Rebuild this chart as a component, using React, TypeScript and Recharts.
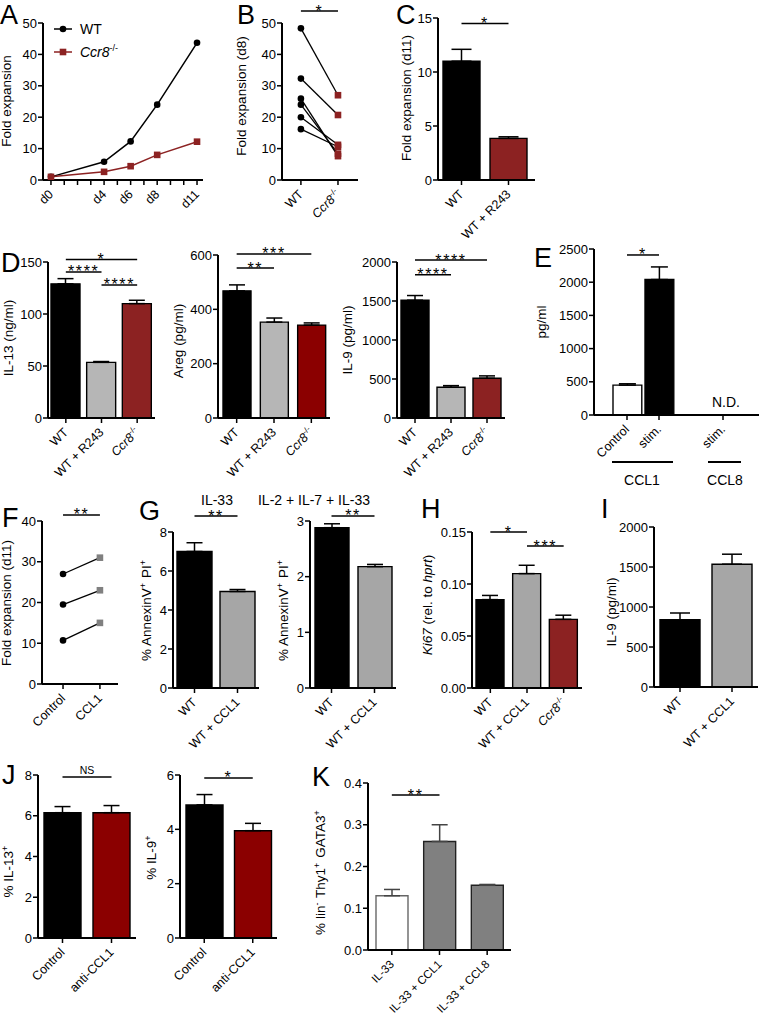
import React from 'react';
import {
  BarChart,
  Bar,
  Cell,
  ErrorBar,
  LineChart,
  Line,
  XAxis,
  YAxis,
  ReferenceLine,
} from 'recharts';

const FONT = 'Arial, "Liberation Sans", Helvetica, sans-serif';
const INK = '#000';
const BRICK = '#8c2222';
const MAROON = '#8b0000';
const LIGHT_GREY = '#b6b6b6';
const MID_GREY = '#a6a6a6';
const DARK_GREY = '#808080';

// ---- A: expansion time course ----
const aDays = [0, 4, 6, 8, 11];
const aWt = [1, 5.8, 12.3, 24, 43.7];
const aCcr8 = [1, 2.6, 4.4, 8, 12.2];
const aTicks = [0, 1, 2, 3, 4, 5, 6, 7, 8, 9, 10, 11];
const aTickLabels = ['d0', '', '', '', 'd4', '', 'd6', '', 'd8', '', '', 'd11'];
const foldTicks50 = [0, 10, 20, 30, 40, 50];

// ---- B: paired d8 ----
const bCats = ['WT', 'Ccr8-/-'];
const bWt = [48.3, 32.3, 25.9, 24, 20, 16.2];
const bCcr8 = [27, 20.7, 7.6, 8.4, 11.2, 10.6];

// ---- C ----
const cCats = ['WT', 'WT + R243'];
const cMean = [11, 3.85];
const cSem = [1.1, 0.15];

// ---- D ----
const dCats = ['WT', 'WT + R243', 'Ccr8-/-'];
const dIl13 = [129, 53.5, 110];
const dIl13Sem = [5, 0.8, 3.2];
const dAreg = [468, 353, 342];
const dAregSem = [22, 15, 8];
const dIl9 = [1510, 395, 510];
const dIl9Sem = [60, 20, 30];

// ---- E ----
const eCats = ['Control', 'stim.', '', 'stim.'];
const eMean = [450, 2040, 0, 0];
const eSem = [20, 190, 0, 0];

// ---- F ----
const fCats = ['Control', 'CCL1'];
const fControl = [27, 19.5, 10.7];
const fCcl1 = [31, 23, 15];

// ---- G ----
const gCats = ['WT', 'WT + CCL1'];
const gIl33 = [7.0, 4.95];
const gIl33Sem = [0.45, 0.1];
const gMix = [2.88, 2.18];
const gMixSem = [0.07, 0.04];

// ---- H ----
const hCats = ['WT', 'WT + CCL1', 'Ccr8-/-'];
const hKi67 = [0.085, 0.11, 0.066];
const hKi67Sem = [0.004, 0.008, 0.004];

// ---- I ----
const iCats = ['WT', 'WT + CCL1'];
const iIl9 = [840, 1535];
const iIl9Sem = [85, 125];

// ---- J ----
const jCats = ['Control', 'anti-CCL1'];
const jIl13 = [6.15, 6.15];
const jIl13Sem = [0.3, 0.35];
const jIl9 = [4.9, 3.95];
const jIl9Sem = [0.38, 0.27];

// ---- K ----
const kCats = ['IL-33', 'IL-33 + CCL1', 'IL-33 + CCL8'];
const kMean = [0.13, 0.26, 0.155];
const kSem = [0.015, 0.04, 0.002];

const AXIS = { stroke: INK, strokeWidth: 2 };
const Y_W = 40;
const M_TOP = 30;
const M_RIGHT = 4;
const X_H = 95;

function rich(label: string) {
  if (label.startsWith('Ccr8')) {
    return [
      <tspan key="a" fontStyle="italic">Ccr8</tspan>,
      <tspan key="b" dy={-5} fontSize={8}>-/-</tspan>,
    ];
  }
  return label;
}

function SlantTick({ x, y, label, mark, size = 12.5 }: any) {
  const showMark = mark || !!label;
  return (
    <g>
      {showMark && <line x1={x} x2={x} y1={y} y2={y + 5} stroke={INK} strokeWidth={1.5} />}
      {label ? (
        <text
          transform={`translate(${x + 3},${y + 15}) rotate(-45)`}
          textAnchor="end"
          fontSize={size}
          fontFamily={FONT}
          fill={INK}
        >
          {rich(label)}
        </text>
      ) : null}
    </g>
  );
}

function SigText({ viewBox, text }: any) {
  if (!viewBox) return null;
  const cx = viewBox.x + viewBox.width / 2;
  const ns = text === 'NS';
  return (
    <text
      x={cx}
      y={viewBox.y + (ns ? -3 : 5.5)}
      textAnchor="middle"
      fontFamily={FONT}
      fontSize={ns ? 10.5 : 16}
      letterSpacing={ns ? 0 : 1.6}
      fill={INK}
    >
      {text}
    </text>
  );
}

function yAxisProps(domain: [number, number], ticks: number[], fmt?: (v: number) => string) {
  return {
    width: Y_W,
    domain,
    ticks,
    interval: 0 as const,
    allowDataOverflow: true,
    tickFormatter: fmt,
    axisLine: AXIS,
    tickLine: { stroke: INK, strokeWidth: 1.5 },
    tickSize: 5,
    tickMargin: 1,
    tick: { fill: INK, fontSize: 13, fontFamily: FONT },
  };
}

type Sig = { from: number; to: number; y: number; text: string };

type BarPanelProps = {
  x0: number;
  x1: number;
  yTop: number;
  yZero: number;
  cats: string[];
  mean: number[];
  sem: number[];
  fills: string[];
  strokes?: string[];
  domain: [number, number];
  ticks: number[];
  fmt?: (v: number) => string;
  barSize: number;
  padL?: number;
  padR?: number;
  cap?: number;
  errColor?: string;
  labelSize?: number;
  sig?: Sig[];
};

function BarPanel(p: BarPanelProps) {
  const data = p.cats.map((_, i) => ({ id: `k${i}`, mean: p.mean[i], err: [0, p.sem[i]] }));
  const plotW = p.x1 - p.x0;
  const plotH = p.yZero - p.yTop;
  return (
    <div style={{ position: 'absolute', left: p.x0 - Y_W, top: p.yTop - M_TOP }}>
      <BarChart
        width={Y_W + plotW + M_RIGHT}
        height={M_TOP + plotH + X_H}
        data={data}
        margin={{ top: M_TOP, right: M_RIGHT, bottom: 0, left: 0 }}
        barCategoryGap={0}
      >
        <XAxis
          dataKey="id"
          height={X_H}
          interval={0}
          padding={{ left: p.padL ?? 0, right: p.padR ?? 0 }}
          axisLine={AXIS}
          tickLine={false}
          tickSize={0}
          tickMargin={0}
          tick={(t: any) => (
            <SlantTick key={t.index} x={t.x} y={t.y} label={p.cats[t.index]} size={p.labelSize} />
          )}
        />
        <YAxis {...yAxisProps(p.domain, p.ticks, p.fmt)} />
        <Bar dataKey="mean" barSize={p.barSize} isAnimationActive={false}>
          {data.map((_, i) => (
            <Cell
              key={`cell-${i}`}
              fill={p.fills[i]}
              stroke={p.strokes ? p.strokes[i] : INK}
              strokeWidth={1.4}
            />
          ))}
          <ErrorBar
            dataKey="err"
            width={p.cap ?? 8}
            stroke={p.errColor ?? INK}
            strokeWidth={1.5}
            direction="y"
            isAnimationActive={false}
          />
        </Bar>
        {(p.sig ?? []).map((s, i) => (
          <ReferenceLine
            key={`sig-${i}`}
            segment={[
              { x: data[s.from].id, y: s.y },
              { x: data[s.to].id, y: s.y },
            ]}
            stroke={INK}
            strokeWidth={1.5}
            ifOverflow="visible"
            label={<SigText text={s.text} />}
          />
        ))}
      </BarChart>
    </div>
  );
}

const circleDot = (fill: string) => (d: any) => (
  <circle key={`c-${d.index}-${d.cx}`} cx={d.cx} cy={d.cy} r={3.3} fill={fill} />
);
const squareDot = (fill: string) => (d: any) => (
  <rect key={`s-${d.index}-${d.cx}`} x={d.cx - 3.3} y={d.cy - 3.3} width={6.6} height={6.6} fill={fill} />
);

const aData = aDays.map((d, i) => ({ day: d, wt: aWt[i], ccr8: aCcr8[i] }));

function PanelA() {
  const x0 = 43, x1 = 203, yTop = 23, yZero = 180;
  return (
    <div style={{ position: 'absolute', left: x0 - Y_W, top: yTop - M_TOP }}>
      <LineChart
        width={Y_W + (x1 - x0) + M_RIGHT}
        height={M_TOP + (yZero - yTop) + 40}
        data={aData}
        margin={{ top: M_TOP, right: M_RIGHT, left: 0, bottom: 0 }}
      >
        <XAxis
          type="number"
          dataKey="day"
          domain={[-0.6, 11.45]}
          allowDataOverflow
          ticks={aTicks}
          interval={0}
          height={40}
          axisLine={AXIS}
          tickLine={false}
          tickSize={0}
          tickMargin={0}
          tick={(t: any) => (
            <SlantTick
              key={t.index}
              x={t.x}
              y={t.y}
              mark
              label={aTickLabels[aTicks.indexOf(t.payload.value)]}
            />
          )}
        />
        <YAxis {...yAxisProps([0, 50], foldTicks50)} />
        <Line dataKey="wt" stroke={INK} strokeWidth={1.5} dot={circleDot(INK)} isAnimationActive={false} />
        <Line dataKey="ccr8" stroke={BRICK} strokeWidth={1.5} dot={squareDot(BRICK)} isAnimationActive={false} />
      </LineChart>
    </div>
  );
}

function pairRows(cats: string[], left: number[], right: number[]) {
  return cats.map((_, j) => {
    const row: Record<string, number> = { x: j };
    left.forEach((v, i) => {
      row[`p${i}`] = j === 0 ? v : right[i];
    });
    return row;
  });
}

const bData = pairRows(bCats, bWt, bCcr8);
const fData = pairRows(fCats, fControl, fCcl1);

type PairProps = {
  x0: number;
  x1: number;
  yTop: number;
  yZero: number;
  xDomain: [number, number];
  cats: string[];
  rows: Record<string, number>[];
  n: number;
  domain: [number, number];
  ticks: number[];
  rightFill: string;
  sigY: number;
  sigText: string;
};

function PairPanel(p: PairProps) {
  const keys = Array.from({ length: p.n }, (_, i) => `p${i}`);
  const dot = (d: any) =>
    d.payload.x === 0 ? circleDot(INK)(d) : squareDot(p.rightFill)(d);
  return (
    <div style={{ position: 'absolute', left: p.x0 - Y_W, top: p.yTop - M_TOP }}>
      <LineChart
        width={Y_W + (p.x1 - p.x0) + M_RIGHT}
        height={M_TOP + (p.yZero - p.yTop) + 70}
        data={p.rows}
        margin={{ top: M_TOP, right: M_RIGHT, left: 0, bottom: 0 }}
      >
        <XAxis
          type="number"
          dataKey="x"
          domain={p.xDomain}
          allowDataOverflow
          ticks={[0, 1]}
          interval={0}
          height={70}
          axisLine={AXIS}
          tickLine={false}
          tickSize={0}
          tickMargin={0}
          tick={(t: any) => (
            <SlantTick key={t.index} x={t.x} y={t.y} label={p.cats[t.payload.value]} />
          )}
        />
        <YAxis {...yAxisProps(p.domain, p.ticks)} />
        {keys.map((k) => (
          <Line
            key={k}
            dataKey={k}
            stroke={INK}
            strokeWidth={1.3}
            dot={dot}
            isAnimationActive={false}
          />
        ))}
        <ReferenceLine
          segment={[
            { x: 0, y: p.sigY },
            { x: 1, y: p.sigY },
          ]}
          stroke={INK}
          strokeWidth={1.5}
          ifOverflow="visible"
          label={<SigText text={p.sigText} />}
        />
      </LineChart>
    </div>
  );
}

function YTitle({ x, y, children, size = 13.5 }: any) {
  return (
    <text
      transform={`translate(${x},${y}) rotate(-90)`}
      textAnchor="middle"
      fontSize={size}
      fill={INK}
    >
      {children}
    </text>
  );
}

const Sup = ({ t }: { t: string }) => (
  <>
    <tspan dy={-5} fontSize={9}>{t}</tspan>
    <tspan dy={5}>{'\u200a'}</tspan>
  </>
);

function Letter({ x, y, t }: any) {
  return (
    <text x={x} y={y} fontSize={27} fill={INK}>
      {t}
    </text>
  );
}

function Overlay() {
  return (
    <svg
      width={759}
      height={1016}
      style={{ position: 'absolute', left: 0, top: 0, pointerEvents: 'none' }}
      fontFamily={FONT}
    >
      <Letter x={0} y={24} t="A" />
      <Letter x={237} y={24} t="B" />
      <Letter x={396} y={24} t="C" />
      <Letter x={1} y={272} t="D" />
      <Letter x={534} y={267} t="E" />
      <Letter x={2} y={527} t="F" />
      <Letter x={139} y={520} t="G" />
      <Letter x={421} y={518} t="H" />
      <Letter x={601} y={518} t="I" />
      <Letter x={2} y={784} t="J" />
      <Letter x={312} y={786} t="K" />

      {/* legend of A */}
      <line x1={54} x2={72} y1={29} y2={29} stroke={INK} strokeWidth={1.5} />
      <circle cx={63} cy={29} r={3.3} fill={INK} />
      <text x={80} y={34} fontSize={14} fill={INK}>WT</text>
      <line x1={54} x2={72} y1={52} y2={52} stroke={BRICK} strokeWidth={1.5} />
      <rect x={59.7} y={48.7} width={6.6} height={6.6} fill={BRICK} />
      <text x={80} y={57} fontSize={14} fill={INK}>
        <tspan fontStyle="italic">Ccr8</tspan>
        <tspan dy={-6} fontSize={9}>-/-</tspan>
      </text>

      <YTitle x={11} y={101}>Fold expansion</YTitle>
      <YTitle x={246} y={96}>Fold expansion (d8)</YTitle>
      <YTitle x={411} y={98}>Fold expansion (d11)</YTitle>
      <YTitle x={13} y={338}>IL-13 (ng/ml)</YTitle>
      <YTitle x={183} y={341}>Areg (pg/ml)</YTitle>
      <YTitle x={352} y={340}>IL-9 (pg/ml)</YTitle>
      <YTitle x={546} y={322}>pg/ml</YTitle>
      <YTitle x={11} y={603}>Fold expansion (d11)</YTitle>
      <YTitle x={151} y={610}>
        % AnnexinV<Sup t="+" /> PI<Sup t="+" />
      </YTitle>
      <YTitle x={288} y={610}>
        % AnnexinV<Sup t="+" /> PI<Sup t="+" />
      </YTitle>
      <YTitle x={432} y={605}>
        <tspan fontStyle="italic">Ki67</tspan> (rel. to <tspan fontStyle="italic">hprt</tspan>)
      </YTitle>
      <YTitle x={616} y={612}>IL-9 (pg/ml)</YTitle>
      <YTitle x={13} y={871}>
        % IL-13<Sup t="+" />
      </YTitle>
      <YTitle x={156} y={857}>
        % IL-9<Sup t="+" />
      </YTitle>
      <YTitle x={325} y={872}>
        % lin<Sup t="-" /> Thy1<Sup t="+" /> GATA3<Sup t="+" />
      </YTitle>

      {/* G titles */}
      <text x={217} y={505} fontSize={14} textAnchor="middle" fill={INK}>IL-33</text>
      <text x={314} y={505} fontSize={14} textAnchor="middle" fill={INK}>IL-2 + IL-7 + IL-33</text>

      {/* E extras */}
      <text x={726} y={407} fontSize={14} textAnchor="middle" fill={INK}>N.D.</text>
      <line x1={612} x2={673} y1={462} y2={462} stroke={INK} strokeWidth={1.8} />
      <text x={642} y={485} fontSize={14} textAnchor="middle" fill={INK}>CCL1</text>
      <line x1={708} x2={741} y1={462} y2={462} stroke={INK} strokeWidth={1.8} />
      <text x={725} y={485} fontSize={14} textAnchor="middle" fill={INK}>CCL8</text>
    </svg>
  );
}

export default function App() {
  return (
    <div
      style={{
        position: 'absolute',
        left: 0,
        top: 0,
        width: 759,
        height: 1016,
        background: '#fff',
        fontFamily: FONT,
        overflow: 'hidden',
      }}
    >
      <style>{'.recharts-surface{overflow:visible}'}</style>
      <PanelA />
      <PairPanel
        x0={282}
        x1={358}
        yTop={23}
        yZero={180}
        xDomain={[-0.51, 1.54]}
        cats={bCats}
        rows={bData}
        n={bWt.length}
        domain={[0, 50]}
        ticks={foldTicks50}
        rightFill={BRICK}
        sigY={53.8}
        sigText="*"
      />
      <BarPanel
        x0={438}
        x1={535}
        yTop={18}
        yZero={180}
        cats={cCats}
        mean={cMean}
        sem={cSem}
        fills={[INK, BRICK]}
        domain={[0, 15]}
        ticks={[0, 5, 10, 15]}
        barSize={37}
        padL={0}
        padR={3}
        cap={10}
        sig={[{ from: 0, to: 1, y: 14.5, text: '*' }]}
      />
      <BarPanel
        x0={48}
        x1={155}
        yTop={262}
        yZero={418}
        cats={dCats}
        mean={dIl13}
        sem={dIl13Sem}
        fills={[INK, LIGHT_GREY, BRICK]}
        domain={[0, 150]}
        ticks={[0, 50, 100, 150]}
        barSize={29}
        sig={[
          { from: 0, to: 2, y: 152.5, text: '*' },
          { from: 0, to: 1, y: 140.4, text: '****' },
          { from: 1, to: 2, y: 127.9, text: '****' },
        ]}
      />
      <BarPanel
        x0={218}
        x1={330}
        yTop={255}
        yZero={418}
        cats={dCats}
        mean={dAreg}
        sem={dAregSem}
        fills={[INK, LIGHT_GREY, MAROON]}
        domain={[0, 600]}
        ticks={[0, 200, 400, 600]}
        barSize={28}
        sig={[
          { from: 0, to: 2, y: 603.7, text: '***' },
          { from: 0, to: 1, y: 552, text: '**' },
        ]}
      />
      <BarPanel
        x0={397}
        x1={505}
        yTop={262}
        yZero={418}
        cats={dCats}
        mean={dIl9}
        sem={dIl9Sem}
        fills={[INK, LIGHT_GREY, BRICK]}
        domain={[0, 2000]}
        ticks={[0, 500, 1000, 1500, 2000]}
        barSize={28}
        sig={[
          { from: 0, to: 2, y: 2025, text: '****' },
          { from: 0, to: 1, y: 1835, text: '****' },
        ]}
      />
      <BarPanel
        x0={594}
        x1={759}
        yTop={249}
        yZero={415}
        cats={eCats}
        mean={eMean}
        sem={eSem}
        fills={['#fff', INK, INK, INK]}
        domain={[0, 2500]}
        ticks={[0, 500, 1000, 1500, 2000, 2500]}
        barSize={32}
        padL={17}
        padR={20}
        cap={8.5}
        sig={[{ from: 0, to: 1, y: 2410, text: '*' }]}
      />
      <PairPanel
        x0={42}
        x1={118}
        yTop={521}
        yZero={684}
        xDomain={[-0.57, 1.49]}
        cats={fCats}
        rows={fData}
        n={fControl.length}
        domain={[0, 40]}
        ticks={[0, 10, 20, 30, 40]}
        rightFill={DARK_GREY}
        sigY={41.5}
        sigText="**"
      />
      <BarPanel
        x0={173}
        x1={259}
        yTop={532}
        yZero={688}
        cats={gCats}
        mean={gIl33}
        sem={gIl33Sem}
        fills={[INK, MID_GREY]}
        domain={[0, 8]}
        ticks={[0, 2, 4, 6, 8]}
        barSize={35}
        sig={[{ from: 0, to: 1, y: 8.82, text: '**' }]}
      />
      <BarPanel
        x0={310}
        x1={396}
        yTop={521}
        yZero={688}
        cats={gCats}
        mean={gMix}
        sem={gMixSem}
        fills={[INK, MID_GREY]}
        domain={[0, 3]}
        ticks={[0, 1, 2, 3]}
        barSize={34}
        sig={[{ from: 0, to: 1, y: 3.09, text: '**' }]}
      />
      <BarPanel
        x0={472}
        x1={582}
        yTop={532}
        yZero={688}
        cats={hCats}
        mean={hKi67}
        sem={hKi67Sem}
        fills={[INK, MID_GREY, BRICK]}
        domain={[0, 0.15]}
        ticks={[0, 0.05, 0.1, 0.15]}
        fmt={(v) => v.toFixed(2)}
        barSize={28}
        sig={[
          { from: 0, to: 1, y: 0.15, text: '*' },
          { from: 1, to: 2, y: 0.1365, text: '***' },
        ]}
      />
      <BarPanel
        x0={654}
        x1={758}
        yTop={527}
        yZero={687}
        cats={iCats}
        mean={iIl9}
        sem={iIl9Sem}
        fills={[INK, MID_GREY]}
        domain={[0, 2000]}
        ticks={[0, 500, 1000, 1500, 2000]}
        barSize={40}
        cap={10}
      />
      <BarPanel
        x0={38}
        x1={136}
        yTop={775}
        yZero={938}
        cats={jCats}
        mean={jIl13}
        sem={jIl13Sem}
        fills={[INK, MAROON]}
        domain={[0, 8]}
        ticks={[0, 2, 4, 6, 8]}
        barSize={37}
        sig={[{ from: 0, to: 1, y: 7.9, text: 'NS' }]}
      />
      <BarPanel
        x0={180}
        x1={277}
        yTop={775}
        yZero={938}
        cats={jCats}
        mean={jIl9}
        sem={jIl9Sem}
        fills={[INK, MAROON]}
        domain={[0, 6]}
        ticks={[0, 2, 4, 6]}
        barSize={37}
        sig={[{ from: 0, to: 1, y: 5.89, text: '*' }]}
      />
      <BarPanel
        x0={368}
        x1={511}
        yTop={783}
        yZero={950}
        cats={kCats}
        mean={kMean}
        sem={kSem}
        fills={['#fff', DARK_GREY, DARK_GREY]}
        strokes={['#666', '#222', '#222']}
        domain={[0, 0.4]}
        ticks={[0, 0.1, 0.2, 0.3, 0.4]}
        fmt={(v) => v.toFixed(1)}
        barSize={32}
        errColor="#444"
        labelSize={11.5}
        sig={[{ from: 0, to: 1, y: 0.371, text: '**' }]}
      />
      <Overlay />
    </div>
  );
}
